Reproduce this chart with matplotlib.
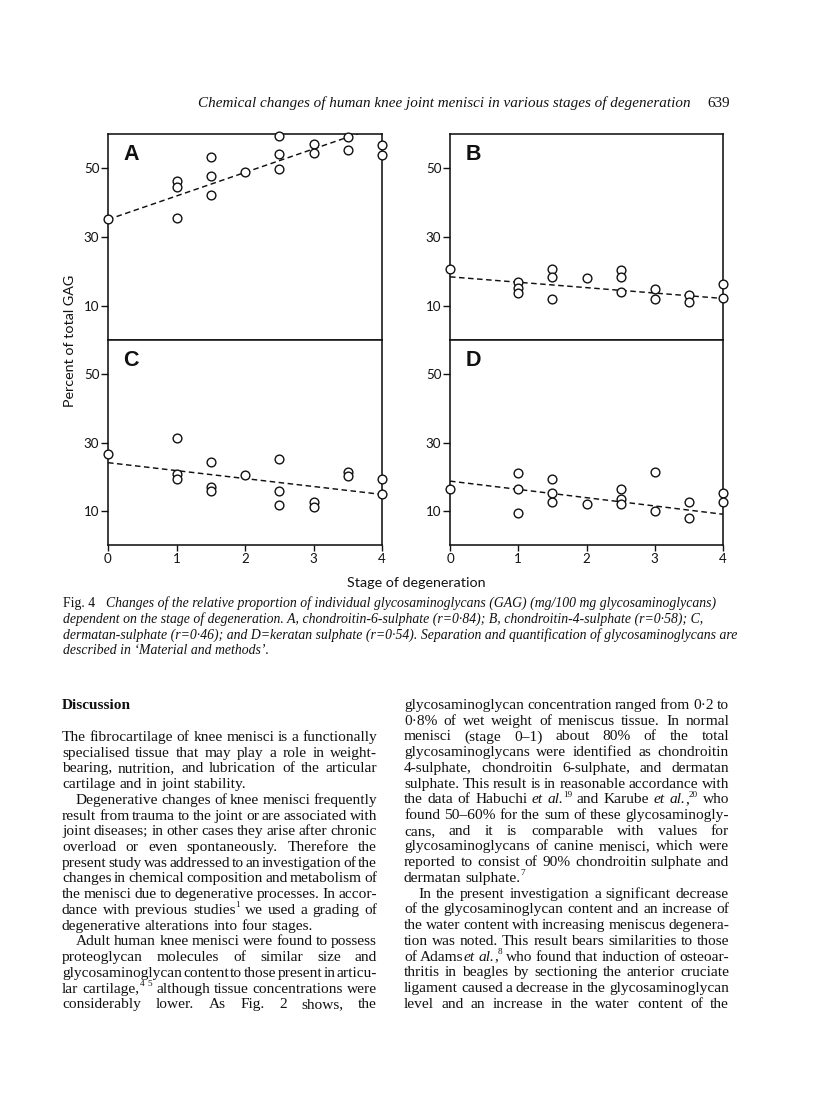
import matplotlib
matplotlib.use('Agg')
import matplotlib.pyplot as plt
from matplotlib.font_manager import FontProperties

# ---------------- data ----------------
stages = [0, 1, 1, 1, 1.5, 1.5, 1.5, 2, 2.5, 2.5, 2.5, 3, 3, 3.5, 3.5, 4, 4]
a_vals = [35.3, 46.4, 44.7, 35.5, 53.2, 47.8, 42.3, 48.8, 59.3, 54.2, 49.7, 57.1, 54.4, 59.1, 55.4, 56.8, 54.0]
b_vals = [20.7, 16.8, 15.0, 13.6, 20.7, 18.3, 12.0, 18.0, 20.4, 18.3, 13.9, 14.9, 12.0, 13.0, 11.0, 16.3, 12.3]
c_vals = [26.7, 31.3, 20.7, 19.2, 24.2, 16.9, 15.7, 20.5, 25.2, 15.7, 11.6, 12.6, 11.2, 21.4, 20.2, 19.4, 14.8]
d_vals = [16.3, 21.2, 16.3, 9.5, 19.3, 15.2, 12.7, 12.1, 16.3, 13.4, 11.9, 21.5, 10.0, 12.6, 7.8, 15.3, 12.6]
trend_x = [0, 4]
a_trend = [35.1, 62.5]
b_trend = [18.4, 12.1]
c_trend = [24.1, 14.8]
d_trend = [18.7, 9.0]
panel_letters = ['A', 'B', 'C', 'D']
x_ticks = [0, 1, 2, 3, 4]
y_ticks = [10, 30, 50]
y_label = 'Percent of total GAG'
x_label = 'Stage of degeneration'

header_text = 'Chemical changes of human knee joint menisci in various stages of degeneration'
page_number = '639'
caption_lead = 'Fig. 4'
caption_lines = [
    'Changes of the relative proportion of individual glycosaminoglycans (GAG) (mg/100 mg glycosaminoglycans)',
    'dependent on the stage of degeneration. A, chondroitin-6-sulphate (r=0\u00b784); B, chondroitin-4-sulphate (r=0\u00b758); C,',
    'dermatan-sulphate (r=0\u00b746); and D=keratan sulphate (r=0\u00b754). Separation and quantification of glycosaminoglycans are',
    'described in \u2018Material and methods\u2019.',
]
heading = 'Discussion'
# (text, paragraph-start, paragraph-end)
left_lines = [
    ('The fibrocartilage of knee menisci is a functionally', False, False),
    ('specialised tissue that may play a role in weight-', False, False),
    ('bearing, nutrition, and lubrication of the articular', False, False),
    ('cartilage and in joint stability.', False, True),
    ('Degenerative changes of knee menisci frequently', True, False),
    ('result from trauma to the joint or are associated with', False, False),
    ('joint diseases; in other cases they arise after chronic', False, False),
    ('overload or even spontaneously. Therefore the', False, False),
    ('present study was addressed to an investigation of the', False, False),
    ('changes in chemical composition and metabolism of', False, False),
    ('the menisci due to degenerative processes. In accor-', False, False),
    ('dance with previous studies^1^ we used a grading of', False, False),
    ('degenerative alterations into four stages.', False, True),
    ('Adult human knee menisci were found to possess', True, False),
    ('proteoglycan molecules of similar size and', False, False),
    ('glycosaminoglycan content to those present in articu-', False, False),
    ('lar cartilage,^4^ ^5^ although tissue concentrations were', False, False),
    ('considerably lower. As Fig. 2 shows, the', False, False),
]
right_lines = [
    ('glycosaminoglycan concentration ranged from 0\u00b72 to', False, False),
    ('0\u00b78% of wet weight of meniscus tissue. In normal', False, False),
    ('menisci (stage 0\u20131) about 80% of the total', False, False),
    ('glycosaminoglycans were identified as chondroitin', False, False),
    ('4-sulphate, chondroitin 6-sulphate, and dermatan', False, False),
    ('sulphate. This result is in reasonable accordance with', False, False),
    ('the data of Habuchi _et_ _al._^19^ and Karube _et_ _al._,^20^ who', False, False),
    ('found 50\u201360% for the sum of these glycosaminogly-', False, False),
    ('cans, and it is comparable with values for', False, False),
    ('glycosaminoglycans of canine menisci, which were', False, False),
    ('reported to consist of 90% chondroitin sulphate and', False, False),
    ('dermatan sulphate.^7^', False, True),
    ('In the present investigation a significant decrease', True, False),
    ('of the glycosaminoglycan content and an increase of', False, False),
    ('the water content with increasing meniscus degenera-', False, False),
    ('tion was noted. This result bears similarities to those', False, False),
    ('of Adams_et_ _al._,^8^ who found that induction of osteoar-', False, False),
    ('thritis in beagles by sectioning the anterior cruciate', False, False),
    ('ligament caused a decrease in the glycosaminoglycan', False, False),
    ('level and an increase in the water content of the', False, False),
]

# ---------------- figure ----------------
W, H = 816, 1108
fig = plt.figure(figsize=(W / 100, H / 100), dpi=100)
fig.patch.set_facecolor('white')
ink = '#111111'
renderer = fig.canvas.get_renderer()


def fx(x):
    return x / W


def fy(y):
    return 1 - y / H


def add_ax(x0, y0, x1, y1):
    return fig.add_axes([fx(x0), fy(y1), (x1 - x0) / W, (y1 - y0) / H])


tick_font = FontProperties(family='Lato', size=9.6)
letter_font = FontProperties(family='Liberation Sans', weight='bold', size=15.5)

boxes = [(108, 134, 382, 340), (450, 134, 723, 340), (108, 340, 382, 545), (450, 340, 723, 545)]
values = [a_vals, b_vals, c_vals, d_vals]
trends = [a_trend, b_trend, c_trend, d_trend]

for i, (box, vals, tr, letter) in enumerate(zip(boxes, values, trends, panel_letters)):
    ax = add_ax(*box)
    ax.set_xlim(0, 4)
    ax.set_ylim(0, 60)
    ax.plot(trend_x, tr, color=ink, lw=1.05, linestyle=(0, (3.8, 2.4)), zorder=2)
    ax.plot(stages, vals, 'o', ms=6.3, mfc='white', mec=ink, mew=1.0, clip_on=False, zorder=3)
    for s in ax.spines.values():
        s.set_linewidth(1.15)
        s.set_color(ink)
    ax.set_yticks(y_ticks)
    ax.set_yticklabels([str(v) for v in y_ticks], fontproperties=tick_font, color=ink)
    ax.tick_params(axis='y', direction='out', length=5, width=1.0, pad=1.2, colors=ink)
    if i >= 2:
        ax.set_xticks(x_ticks)
        ax.set_xticklabels([str(v) for v in x_ticks], fontproperties=tick_font, color=ink)
        ax.tick_params(axis='x', direction='out', length=4, width=1.0, pad=1.5, colors=ink)
    else:
        ax.set_xticks([])
    ax.text(0.085, 0.9, letter, transform=ax.transAxes, fontproperties=letter_font,
            ha='center', va='center', color=ink)

label_font = FontProperties(family='Lato', size=10.3)
fig.text(fx(70), fy(341), y_label, rotation=90, ha='center', va='center',
         fontproperties=label_font, color=ink)
fig.text(fx(416), fy(583), x_label, ha='center', va='center',
         fontproperties=label_font, color=ink)

# ---------------- text helpers ----------------
SERIF = 'Liberation Serif'


def props(style, size):
    if style == 'i':
        return FontProperties(family=SERIF, style='italic', size=size)
    if style == 'b':
        return FontProperties(family=SERIF, weight='bold', size=size)
    if style == 'sup':
        return FontProperties(family=SERIF, size=size * 0.6)
    return FontProperties(family=SERIF, size=size)


def tw(s, fp):
    w, h, d = renderer.get_text_width_height_descent(s, fp, ismath=False)
    return w


def space_w(fp):
    return tw('n n', fp) - tw('nn', fp)


def parse_word(word, base='n'):
    segs = []
    style = base
    buf = ''
    for ch in word:
        if ch == '_':
            if buf:
                segs.append((buf, style))
                buf = ''
            style = base if style == 'i' else 'i'
        elif ch == '^':
            if buf:
                segs.append((buf, style))
                buf = ''
            style = base if style == 'sup' else 'sup'
        else:
            buf += ch
    if buf:
        segs.append((buf, style))
    return segs


def word_w(segs, size):
    return sum(tw(s, props(st, size)) for s, st in segs)


def draw_line(line, x0, x1, ybase, size, justify, indent=0.0, base='n'):
    words = [parse_word(w, base) for w in line.split()]
    widths = [word_w(wd, size) for wd in words]
    start = x0 + indent
    if justify and len(words) > 1:
        gap = (x1 - start - sum(widths)) / (len(words) - 1)
    else:
        gap = space_w(props(base, size))
    x = start
    for wd, w in zip(words, widths):
        xx = x
        for s, st in wd:
            fp = props(st, size)
            yb = ybase - (size * 0.42 * 100 / 72 if st == 'sup' else 0)
            fig.text(fx(xx), fy(yb), s, fontproperties=fp, ha='left', va='baseline', color=ink)
            xx += tw(s, fp) + (0.8 if st == 'sup' else 0)
        x += w + gap


def fit_size(s, fp_style, target):
    w10 = tw(s, props(fp_style, 10))
    return 10 * target / w10


# ---------------- header ----------------
hsize = fit_size(header_text, 'i', 690 - 198)
fig.text(fx(198), fy(107), header_text, fontproperties=props('i', hsize), ha='left', va='baseline', color=ink)
fig.text(fx(707), fy(107), page_number, fontproperties=props('n', hsize), ha='left', va='baseline', color=ink)

# ---------------- caption ----------------
csize = 0.5 * (fit_size(caption_lines[0], 'i', 727 - 106) + fit_size(caption_lines[2], 'i', 722 - 63))
fig.text(fx(63), fy(607), caption_lead, fontproperties=props('n', csize), ha='left', va='baseline', color=ink)
for k, ln in enumerate(caption_lines):
    xs = 106 if k == 0 else 63
    fig.text(fx(xs), fy(607 + k * 15.7), ln, fontproperties=props('i', csize),
             ha='left', va='baseline', color=ink)

# ---------------- body columns ----------------
tight = 'present study was addressed to an investigation of the'
n_gaps = len(tight.split()) - 1
bsize = fit_size(tight.replace(' ', ''), 'n', (377 - 62) - n_gaps * 2.0)
fig.text(fx(62), fy(709), heading, fontproperties=props('b', bsize), ha='left', va='baseline', color=ink)

step = 15.72
for k, (ln, pstart, pend) in enumerate(left_lines):
    draw_line(ln, 62, 377, 741 + k * step, bsize, justify=not pend, indent=14 if pstart else 0)
for k, (ln, pstart, pend) in enumerate(right_lines):
    draw_line(ln, 404, 729, 709 + k * step, bsize, justify=not pend, indent=14 if pstart else 0)

fig.savefig('out.png', dpi=100, facecolor='white')
